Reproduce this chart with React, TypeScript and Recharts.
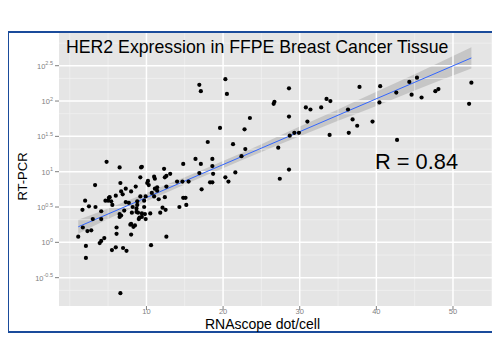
import React from "react";
import {
  ComposedChart,
  Scatter,
  Line,
  Area,
  XAxis,
  YAxis,
  CartesianGrid,
  ReferenceLine,
} from "recharts";

// RNAscope dots per cell vs RT-PCR (log10 exponent)
const lowDots: [number, number][] = [
  [1.1, 0.08], [1.65, 0.46], [1.7, 0.21], [2.0, 0.59], [2.1, -0.05], [2.1, -0.22],
  [2.3, 0.16], [2.5, 0.51], [2.8, 0.17], [3.0, 0.33], [3.3, 0.81], [3.35, 0.5],
  [3.9, -0.01], [4.1, 0.02], [4.1, 0.33], [4.1, 0.44], [4.5, 0.06], [4.65, 0.59],
  [4.8, 1.14], [5.0, 0.59], [5.1, 0.63], [5.2, 0.64], [5.4, 0.58], [5.5, -0.11],
  [5.55, 0.53], [6.0, 0.66], [6.0, -0.07], [6.1, 0.12], [6.1, 0.21], [6.5, 0.36],
  [6.5, 0.4], [6.5, 1.06], [6.6, 0.84], [6.6, -0.72], [6.7, 0.72], [6.7, 0.38],
  [6.9, 0.68], [6.95, -0.08], [7.1, 0.45], [7.3, 0.76], [7.3, 0.57], [7.4, -0.12],
  [7.7, 0.56], [7.9, 0.25],
];

const midDots: [number, number][] = [
  [8.0, 0.72], [8.0, 0.11], [8.0, 0.26], [8.1, 0.42], [8.2, 0.5], [8.3, 0.22],
  [8.5, 0.24], [8.6, 0.79], [8.7, 0.43], [8.7, 0.48], [8.8, 0.53], [8.8, 0.58],
  [8.9, 0.42], [9.0, 0.33], [9.1, 0.35], [9.2, 0.92], [9.2, 0.65], [9.3, 1.06],
  [9.4, 1.07], [9.4, 0.41], [9.4, 0.36], [9.7, 0.5], [9.7, 0.59], [9.8, 0.4],
  [9.9, 0.65], [9.9, 0.33], [10.1, 0.84], [10.2, 0.87], [10.3, 0.81], [10.5, 0.41],
  [10.6, -0.04], [10.7, 0.7], [11.0, 0.93], [11.0, 0.65], [11.1, 0.9], [11.1, 0.76],
  [11.4, 0.78], [11.4, 0.73], [11.6, 0.61], [11.8, 0.42], [12.1, 0.49], [12.3, 1.04],
  [12.4, 0.92], [12.4, 0.64], [12.5, 0.46], [12.6, 0.94], [12.6, 0.79], [12.6, 0.08],
  [13.1, 0.97], [14.0, 0.86], [14.3, 0.5], [14.7, 0.86], [14.8, 1.11], [14.8, 0.63],
  [15.1, 0.63], [15.2, 0.53], [15.5, 0.86],
];

const upperDots: [number, number][] = [
  [16.4, 1.18], [16.9, 0.98], [16.9, 2.23], [17.1, 1.11], [17.1, 2.14], [17.2, 0.75],
  [18.0, 1.42], [18.3, 0.85], [18.6, 0.85], [18.6, 1.18], [18.6, 1.08], [18.7, 0.97],
  [19.6, 1.62], [20.3, 0.92], [20.3, 2.31], [20.5, 2.1], [20.7, 0.86], [21.3, 1.39],
  [21.6, 0.99], [22.4, 1.22], [22.8, 1.6], [22.9, 1.32], [23.5, 1.76],
];

const highDots: [number, number][] = [
  [26.6, 1.96], [26.7, 1.99], [27.2, 1.34], [27.4, 0.9], [28.6, 2.18], [28.6, 1.78],
  [28.6, 1.03], [28.7, 1.51], [29.3, 1.55], [29.9, 1.55], [30.8, 1.91], [31.0, 1.71],
  [31.4, 1.88], [32.8, 1.91], [33.5, 2.03], [33.9, 1.52], [34.0, 2.0], [36.3, 1.88],
  [36.4, 1.55], [36.9, 1.74], [37.5, 1.65], [37.8, 2.2], [39.5, 1.71], [40.4, 1.98],
  [40.5, 2.21], [42.6, 2.12], [42.7, 1.45], [44.3, 2.27], [44.6, 2.09], [45.3, 2.33],
  [45.9, 2.05], [47.7, 2.14], [48.1, 2.17], [52.1, 1.96], [52.4, 2.26],
];

// fitted line and its confidence band
const fitX = [1.1, 52.4];
const fitY = [0.22, 2.61];
const bandX = [1.1, 5, 10, 15, 20, 25, 30, 35, 40, 45, 52.4];
const bandLow = [0.12, 0.33, 0.58, 0.82, 1.05, 1.28, 1.5, 1.72, 1.93, 2.15, 2.46];
const bandHigh = [0.32, 0.48, 0.7, 0.92, 1.15, 1.39, 1.64, 1.88, 2.13, 2.38, 2.76];

const xTicks = [10, 20, 30, 40, 50];
const yTicks = [-0.5, 0, 0.5, 1, 1.5, 2, 2.5];
const xMinor = [0, 5, 15, 25, 35, 45, 55];
const yMinor = [-0.68, -0.18, 0.32, 0.82, 1.32, 1.82, 2.32, 2.82];

const dots = [...lowDots, ...midDots, ...upperDots, ...highDots].map(([x, y]) => ({ x, y }));
const fitData = fitX.map((x, i) => ({ x, y: fitY[i] }));
const bandData = bandX.map((x, i) => ({ x, band: [bandLow[i], bandHigh[i]] }));

const font = "'Liberation Sans', Arial, Helvetica, sans-serif";

const YTick = (props: any) => {
  const { x, y, payload } = props;
  return (
    <text x={x} y={y} dy={3} textAnchor="end" fill="#7f7f7f" fontSize={7.5} fontFamily={font}>
      10
      <tspan fontSize={5.5} dy={-3.5}>
        {payload.value}
      </tspan>
    </text>
  );
};

const XTick = (props: any) => {
  const { x, y, payload } = props;
  return (
    <text x={x} y={y} dy={2} textAnchor="middle" fill="#7f7f7f" fontSize={7.5} fontFamily={font}>
      {payload.value}
    </text>
  );
};

const Dot = (props: any) => <circle cx={props.cx} cy={props.cy} r={2.1} fill="#000" />;

export default function App() {
  return (
    <div style={{ position: "relative", width: 500, height: 350, margin: -8 }}>
      <div style={{ position: "absolute", left: 0, top: 0 }}>
        <ComposedChart width={500} height={350} margin={{ top: 33, right: 8, left: 0, bottom: 0 }}>
          <CartesianGrid fill="#e5e5e5" horizontal={false} vertical={false} />
          {xMinor.map((v) => (
            <ReferenceLine key={"xm" + v} x={v} stroke="#f2f2f2" strokeWidth={0.7} />
          ))}
          {yMinor.map((v) => (
            <ReferenceLine key={"ym" + v} y={v} stroke="#f2f2f2" strokeWidth={0.7} />
          ))}
          {xTicks.map((v) => (
            <ReferenceLine key={"xM" + v} x={v} stroke="#ffffff" strokeWidth={1.5} />
          ))}
          {yTicks.map((v) => (
            <ReferenceLine key={"yM" + v} y={v} stroke="#ffffff" strokeWidth={1.5} />
          ))}
          <XAxis
            dataKey="x"
            type="number"
            domain={[-1.41, 55.09]}
            ticks={xTicks}
            allowDataOverflow
            height={44}
            axisLine={false}
            tickLine={{ stroke: "#7f7f7f" }}
            tickSize={4}
            tickMargin={2}
            tick={<XTick />}
          />
          <YAxis
            type="number"
            domain={[-0.901, 2.963]}
            ticks={yTicks}
            allowDataOverflow
            width={59}
            axisLine={false}
            tickLine={{ stroke: "#7f7f7f" }}
            tickSize={4}
            tickMargin={2}
            tick={<YTick />}
          />
          <Scatter data={dots} dataKey="y" shape={<Dot />} isAnimationActive={false} />
          <Area
            data={bandData}
            dataKey="band"
            type="monotone"
            stroke="none"
            fill="#999999"
            fillOpacity={0.4}
            isAnimationActive={false}
          />
          <Line
            data={fitData}
            dataKey="y"
            type="linear"
            stroke="#3366ff"
            strokeWidth={1}
            dot={false}
            isAnimationActive={false}
          />
        </ComposedChart>
      </div>
      <div
        style={{
          position: "absolute",
          left: 7,
          top: 31,
          width: 488,
          height: 302,
          border: "2.5px solid #1a4b9b",
          boxSizing: "border-box",
          pointerEvents: "none",
        }}
      />
      <svg
        width={500}
        height={350}
        style={{ position: "absolute", left: 0, top: 0, pointerEvents: "none" }}
      >
        <text x={66} y={52.5} fontSize={17.7} fontFamily={font} fill="#000">
          HER2 Expression in FFPE Breast Cancer Tissue
        </text>
        <text x={375} y={169} fontSize={21.8} fontFamily={font} fill="#000">
          R = 0.84
        </text>
        <text x={262.5} y={328.5} fontSize={14} fontFamily={font} fill="#000" textAnchor="middle">
          RNAscope dot/cell
        </text>
        <text
          x={26.7}
          y={176.5}
          fontSize={13}
          fontFamily={font}
          fill="#000"
          textAnchor="middle"
          transform="rotate(-90 26.7 176.5)"
        >
          RT-PCR
        </text>
      </svg>
    </div>
  );
}
